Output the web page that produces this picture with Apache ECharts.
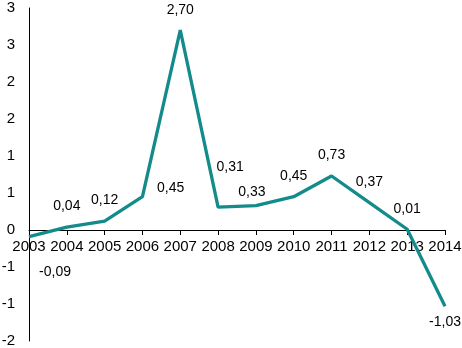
<!DOCTYPE html>
<html>
<head>
<meta charset="utf-8">
<script src="https://cdn.jsdelivr.net/npm/echarts@6/dist/echarts.min.js"></script>
<style>
  html, body { margin: 0; padding: 0; background: #fff; }
  #chart { width: 462px; height: 348px; }
</style>
</head>
<body>
<div id="chart"></div>
<script>
// data
var years = ['2003', '2004', '2005', '2006', '2007', '2008', '2009', '2010', '2011', '2012', '2013', '2014']
var values = [-0.09, 0.04, 0.12, 0.45, 2.70, 0.31, 0.33, 0.45, 0.73, 0.37, 0.01, -1.03]

var yMin = -1.5, yMax = 3
var gridTop = 8, gridBottom = 7, chartH = 348

// labels that don't sit straight above their point
var labelFix = {
    0: {position: 'bottom', distance: 28, offset: [26, 0]},
    3: {position: 'right', distance: 14, offset: [0, -9]},
    5: {position: 'top', distance: 32, offset: [12, 0]},
    6: {position: 'top', distance: 6, offset: [-4, 0]},
    11: {position: 'bottom', distance: 8, offset: [0, 0]}
}

var chart = echarts.init(document.getElementById('chart'), null, {renderer: 'canvas'})

var seriesData = values.map(function (v, i) {
    var item = {value: v}
    if (labelFix[i]) item.label = labelFix[i]
    return item
})

// the category axis sits on the zero line, labels included
var plotH = chartH - gridTop - gridBottom
var zeroOffset = -plotH * (0 - yMin) / (yMax - yMin)

var font = 'Liberation Sans, Arial, sans-serif'

var option = {
    animation: false,
    grid: {left: 29, right: 17, top: gridTop, bottom: gridBottom, outerBoundsMode: 'none', containLabel: false},
    xAxis: {
        type: 'category',
        data: years,
        boundaryGap: false,
        offset: zeroOffset,
        axisLine: {onZero: false, lineStyle: {color: '#000', width: 1}},
        axisTick: {show: true, length: 5, lineStyle: {color: '#000'}},
        axisLabel: {color: '#000', fontSize: 15, margin: 9, fontFamily: font, interval: 0},
        splitLine: {show: false}
    },
    yAxis: {
        type: 'value',
        min: yMin,
        max: yMax,
        interval: 0.5,
        axisLine: {show: true, lineStyle: {color: '#000', width: 1}},
        axisTick: {show: false},
        splitLine: {show: false},
        axisLabel: {
            color: '#000', fontSize: 15, margin: 14, fontFamily: font,
            formatter: function (v) {
                // Excel style "0" format, halves rounded away from zero
                var r = Math.sign(v) * Math.round(Math.abs(v))
                return r === 0 ? '0' : String(r)
            }
        }
    },
    series: [{
        type: 'line',
        data: seriesData,
        symbol: 'circle',
        symbolSize: 1,
        showSymbol: true,
        itemStyle: {color: 'rgba(0,0,0,0)'},
        lineStyle: {color: '#138b8b', width: 3.3},
        label: {
            show: true,
            position: 'top',
            distance: 13,
            color: '#000',
            fontSize: 14,
            fontFamily: font,
            formatter: function (p) {
                return p.value.toFixed(2).replace('.', ',')
            }
        }
    }]
}

chart.setOption(option)
</script>
</body>
</html>
